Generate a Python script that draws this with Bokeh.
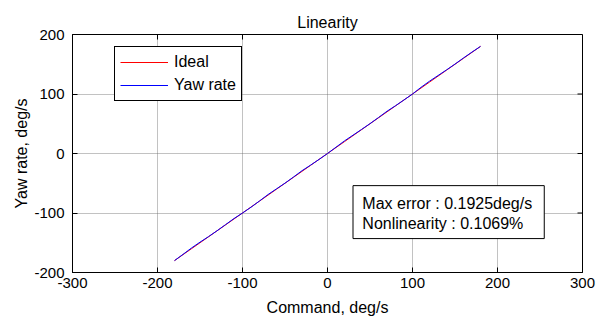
from bokeh.plotting import figure
from bokeh.models import (FixedTicker, Legend, LegendItem, Range1d,
                          BoxAnnotation, Label)
from bokeh.embed import file_html
from bokeh.resources import INLINE

# ---- data ----
command = [-180, -170, -160, -150, -140, -130, -120, -110, -100, -90, -80, -70,
           -60, -50, -40, -30, -20, -10, 0, 10, 20, 30, 40, 50, 60, 70, 80, 90,
           100, 110, 120, 130, 140, 150, 160, 170, 180]
ideal = list(command)
yaw_rate = [-180.0, -169.5, -158.8, -149.0, -139.7, -129.9, -119.6, -109.3,
            -100.0, -90.3, -79.8, -69.0, -59.4, -49.8, -39.5, -28.9, -19.6,
            -10.0, 0.0, 10.6, 21.2, 30.8, 40.4, 50.2, 60.5, 71.0, 80.3, 90.0,
            100.0, 111.2, 121.5, 131.0, 140.5, 150.3, 160.6, 170.5, 180.0]
x_ticks = [-300, -200, -100, 0, 100, 200, 300]
y_ticks = [-200, -100, 0, 100, 200]
title_text = "Linearity"
x_label = "Command, deg/s"
y_label = "Yaw rate, deg/s"
legend_labels = ["Ideal", "Yaw rate"]
info_lines = ["Max error : 0.1925deg/s", "Nonlinearity : 0.1069%"]

FONT = "Liberation Sans"
X0, X1, Y0, Y1 = -300, 300, -200, 200
FW, FH = 510, 238
TICK = 5

p = figure(frame_width=FW, frame_height=FH,
           min_border_left=72, min_border_right=15,
           min_border_top=34, min_border_bottom=48,
           x_range=Range1d(X0, X1), y_range=Range1d(Y0, Y1),
           output_backend="svg", toolbar_location=None,
           background_fill_color="white", border_fill_color="white")

p.title.text = title_text
p.title.align = "center"
p.title.text_font = FONT
p.title.text_font_style = "normal"
p.title.text_font_size = "16px"
p.title.text_color = "black"
p.title.standoff = 8

p.outline_line_color = "black"
p.outline_line_width = 1
p.outline_line_alpha = 1

for ax in [p.xaxis[0], p.yaxis[0]]:
    ax.major_label_text_font = FONT
    ax.major_label_text_font_size = "15px"
    ax.axis_label_text_font = FONT
    ax.axis_label_text_font_size = "16px"
    ax.axis_label_text_font_style = "normal"
    ax.major_tick_in = TICK
    ax.major_tick_out = 0
    ax.minor_tick_in = 0
    ax.minor_tick_out = 0
    ax.axis_line_color = "black"
    ax.major_tick_line_color = "black"
    ax.major_label_text_color = "black"
    ax.axis_label_text_color = "black"

p.xaxis[0].ticker = FixedTicker(ticks=x_ticks)
p.yaxis[0].ticker = FixedTicker(ticks=y_ticks)
p.xaxis[0].major_label_overrides = {t: str(t) for t in x_ticks}
p.yaxis[0].major_label_overrides = {t: str(t) for t in y_ticks}
p.xaxis[0].axis_label = x_label
p.yaxis[0].axis_label = y_label
p.xaxis[0].major_label_standoff = 5
p.xaxis[0].axis_label_standoff = 8
p.yaxis[0].major_label_standoff = 8
p.yaxis[0].axis_label_standoff = 1

p.xgrid.ticker = FixedTicker(ticks=x_ticks)
p.ygrid.ticker = FixedTicker(ticks=y_ticks)
for g in [p.xgrid[0], p.ygrid[0]]:
    g.grid_line_color = "#666666"
    g.grid_line_dash = "1 1"
    g.grid_line_width = 1
    g.grid_line_alpha = 0.8

# inward tick marks on the top and right edges (MATLAB box style)
tx = TICK * (X1 - X0) / FW
ty = TICK * (Y1 - Y0) / FH
p.segment(x0=x_ticks, y0=[Y1] * len(x_ticks), x1=x_ticks,
          y1=[Y1 - ty] * len(x_ticks), line_color="black", line_width=1)
p.segment(x0=[X1] * len(y_ticks), y0=y_ticks, x1=[X1 - tx] * len(y_ticks),
          y1=y_ticks, line_color="black", line_width=1)

r_ideal = p.line(command, ideal, line_color="#ff0000", line_width=1)
r_yaw = p.line(command, yaw_rate, line_color="#0000ff", line_width=1)

legend = Legend(items=[LegendItem(label=legend_labels[0], renderers=[r_ideal]),
                       LegendItem(label=legend_labels[1], renderers=[r_yaw])],
                location=(42, 171), border_line_color="black", border_line_width=1,
                border_line_alpha=1, background_fill_color="white",
                background_fill_alpha=1, label_text_font=FONT,
                label_text_font_size="16px", label_text_color="black",
                glyph_width=48, glyph_height=20,
                label_height=20, label_standoff=6, spacing=3, padding=5, margin=0)
p.add_layout(legend, "center")

box = BoxAnnotation(left=30, right=255, top=-54, bottom=-143,
                    fill_color="white", fill_alpha=1, line_color="black",
                    line_width=1, line_alpha=1)
p.add_layout(box)
for yy, t in zip([-84, -118], info_lines):
    p.add_layout(Label(x=41, y=yy, text=t, text_font=FONT, text_font_size="16px",
                       text_baseline="middle", text_align="left", text_color="black"))

open("out.html", "w").write(file_html(p, INLINE))
